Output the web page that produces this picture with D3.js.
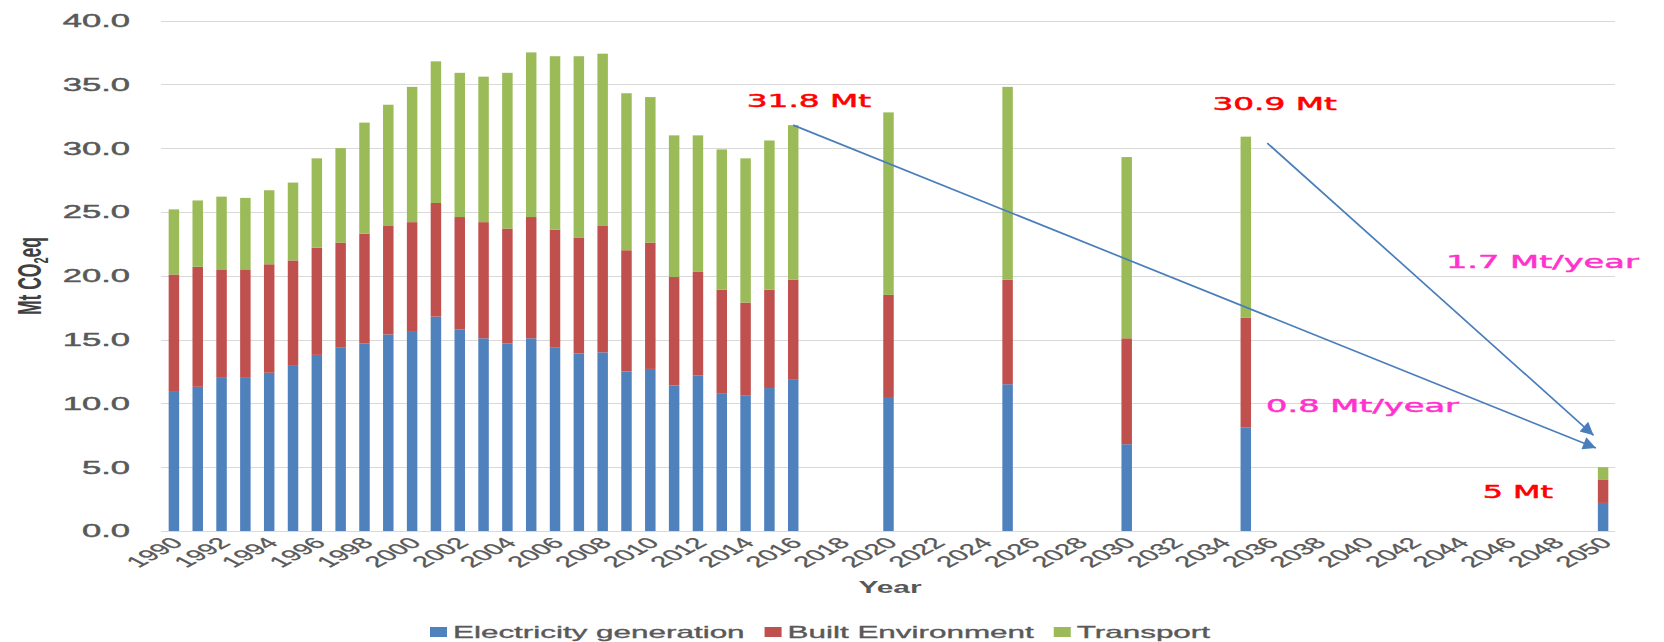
<!DOCTYPE html>
<html>
<head>
<meta charset="utf-8">
<script src="https://cdn.jsdelivr.net/npm/d3@7"></script>
<style>
  html, body { margin: 0; padding: 0; background: #fff; }
  svg { display: block; font-family: "Liberation Sans", Arial, sans-serif; }
  text { stroke-linejoin: round; }
</style>
</head>
<body>
<script>
// Emissions by sector, Mt CO2eq (historic 1990–2016, scenario years after)
const dataYears = [1990,1991,1992,1993,1994,1995,1996,1997,1998,1999,2000,2001,2002,2003,2004,2005,
                   2006,2007,2008,2009,2010,2011,2012,2013,2014,2015,2016,2020,2025,2030,2035,2050];
const electricity = [10.9,11.3,12.0,12.0,12.4,13.0,13.8,14.4,14.7,15.4,15.6,16.8,15.8,15.1,14.7,15.1,
                     14.4,13.9,14.0,12.5,12.7,11.4,12.2,10.8,10.6,11.2,11.9,10.5,11.5,6.8,8.1,2.2];
const builtEnvironment = [9.2,9.4,8.5,8.5,8.5,8.2,8.4,8.2,8.6,8.5,8.6,8.9,8.8,9.1,9.0,9.5,
                          9.2,9.1,9.9,9.5,9.9,8.5,8.1,8.1,7.3,7.7,7.8,8.0,8.2,8.3,8.6,1.8];
const transport = [5.1,5.2,5.7,5.6,5.8,6.1,7.0,7.4,8.7,9.5,10.6,11.1,11.3,11.4,12.2,12.9,
                   13.6,14.2,13.5,12.3,11.4,11.1,10.7,11.0,11.3,11.7,12.1,14.3,15.1,14.2,14.2,1.0];

const seriesKeys = ["electricity", "built", "transport"];
const seriesNames = ["Electricity generation", "Built Environment", "Transport"];
const seriesColors = ["#4F81BD", "#C0504D", "#9BBB59"];

const axisYears = d3.range(1990, 2051);
const labelYears = axisYears.filter(y => y % 2 === 0);
const yTicks = [0, 5, 10, 15, 20, 25, 30, 35, 40];

// Reduction pathways drawn as arrows: [year, value] -> [year, value]
const arrows = [
  { from: [2016, 31.8], to: [2049.7, 6.5] },
  { from: [2035.9, 30.4], to: [2049.6, 7.5] }
];
// Callout texts anchored at [year, value]
const callouts = [
  { text: "31.8 Mt", at: [2014.05, 33.7], color: "#FF0000", size: 17.5 },
  { text: "30.9 Mt", at: [2033.6, 33.45], color: "#FF0000", size: 17.5 },
  { text: "1.7 Mt/year", at: [2043.4, 21.1], color: "#FF33CC", size: 18 },
  { text: "0.8 Mt/year", at: [2035.85, 9.85], color: "#FF33CC", size: 18 },
  { text: "5 Mt", at: [2044.95, 3.1], color: "#FF0000", size: 17 }
];

const W = 1664, H = 642;
const K = 1.87;               // horizontal stretch applied to all lettering
const plot = { left: 162, right: 1615, top: 20.5, bottom: 531 };

const svg = d3.select("body").append("svg")
  .attr("width", W).attr("height", H)
  .attr("viewBox", `0 0 ${W} ${H}`);
svg.append("rect").attr("width", W).attr("height", H).attr("fill", "#fff");

const x = d3.scaleBand().domain(axisYears)
  .range([plot.left, plot.right])
  .paddingInner(0.56).paddingOuter(0.28);
const y = d3.scaleLinear().domain([0, 40]).range([plot.bottom, plot.top]);
const bw = x.bandwidth();
const xYear = d3.scaleLinear().domain([1990, 2050])
  .range([x(1990) + bw / 2, x(2050) + bw / 2]);

function stretched(sel, px, py, rot) {
  return sel.attr("transform", `translate(${px},${py}) scale(${K},1)` + (rot ? ` rotate(${rot})` : ""));
}

// gridlines
svg.append("g").selectAll("line").data(yTicks).join("line")
  .attr("x1", plot.left - 1).attr("x2", plot.right)
  .attr("y1", d => Math.round(y(d)) + 0.5).attr("y2", d => Math.round(y(d)) + 0.5)
  .attr("stroke", "#D9D9D9").attr("stroke-width", 1.2);

// stacked bars
const rows = dataYears.map((yr, i) => ({
  year: yr, electricity: electricity[i], built: builtEnvironment[i], transport: transport[i]
}));
const stacked = d3.stack().keys(seriesKeys)(rows);
svg.append("g").selectAll("g").data(stacked).join("g")
  .attr("fill", (d, i) => seriesColors[i])
  .selectAll("rect").data(d => d).join("rect")
  .attr("x", d => x(d.data.year))
  .attr("width", bw)
  .attr("y", d => y(d[1]))
  .attr("height", d => y(d[0]) - y(d[1]));

// y tick labels
svg.append("g").selectAll("text").data(yTicks).join("text")
  .each(function (d) { stretched(d3.select(this), 130, y(d)); })
  .attr("dy", "0.35em")
  .attr("text-anchor", "end")
  .attr("font-size", 18.5)
  .attr("fill", "#595959").attr("stroke", "#595959").attr("stroke-width", 0.45)
  .text(d => d.toFixed(1));

// x tick labels
svg.append("g").selectAll("text").data(labelYears).join("text")
  .each(function (d) { stretched(d3.select(this), x(d) + bw / 2 + 3, plot.bottom + 9, -45); })
  .attr("dy", "0.35em")
  .attr("text-anchor", "end")
  .attr("font-size", 15.5)
  .attr("fill", "#595959").attr("stroke", "#595959").attr("stroke-width", 0.3)
  .text(d => d);

// axis titles
const yTitle = svg.append("text")
  .attr("text-anchor", "middle")
  .attr("font-size", 17.5)
  .attr("font-weight", "bold")
  .attr("fill", "#404040");
stretched(yTitle, 41, 276, -90);
yTitle.append("tspan").text("Mt CO");
yTitle.append("tspan").attr("font-size", 11).attr("dy", 4).text("2");
yTitle.append("tspan").attr("dy", -4).text("eq");

stretched(svg.append("text"), 890, 593)
  .attr("text-anchor", "middle")
  .attr("font-size", 16)
  .attr("font-weight", "bold")
  .attr("fill", "#595959")
  .text("Year");

// arrows
const defs = svg.append("defs");
defs.append("marker")
  .attr("id", "arrowhead")
  .attr("viewBox", "0 0 10 10")
  .attr("refX", 10).attr("refY", 5)
  .attr("markerWidth", 18).attr("markerHeight", 13)
  .attr("markerUnits", "userSpaceOnUse")
  .attr("orient", "auto")
  .append("path").attr("d", "M0,0 L10,5 L0,10 z").attr("fill", "#4A7EBB");

svg.append("g").selectAll("line").data(arrows).join("line")
  .attr("x1", d => xYear(d.from[0])).attr("y1", d => y(d.from[1]))
  .attr("x2", d => xYear(d.to[0])).attr("y2", d => y(d.to[1]))
  .attr("stroke", "#4A7EBB").attr("stroke-width", 1.7)
  .attr("marker-end", "url(#arrowhead)");

// callout texts
svg.append("g").selectAll("text").data(callouts).join("text")
  .each(function (d) { stretched(d3.select(this), xYear(d.at[0]), y(d.at[1])); })
  .attr("dy", "0.36em")
  .attr("font-family", "'DejaVu Sans', Verdana, sans-serif")
  .attr("font-size", d => d.size)
  .attr("fill", d => d.color)
  .attr("stroke", d => d.color).attr("stroke-width", 0.5)
  .text(d => d.text);

// legend
const legend = svg.append("g");
const items = legend.selectAll("g").data(seriesNames).join("g");
items.append("rect")
  .attr("width", 17).attr("height", 10)
  .attr("y", 627)
  .attr("fill", (d, i) => seriesColors[i]);
items.append("text")
  .attr("font-size", 16.8)
  .attr("fill", "#595959").attr("stroke", "#595959").attr("stroke-width", 0.35)
  .text(d => d)
  .each(function () { stretched(d3.select(this), 0, 637.5); });
let cursor = 430;
items.each(function () {
  const g = d3.select(this);
  const tw = g.select("text").node().getComputedTextLength() * K;
  g.select("rect").attr("x", cursor);
  stretched(g.select("text"), cursor + 23, 637.5);
  cursor += 23 + tw + 20;
});
</script>
</body>
</html>
